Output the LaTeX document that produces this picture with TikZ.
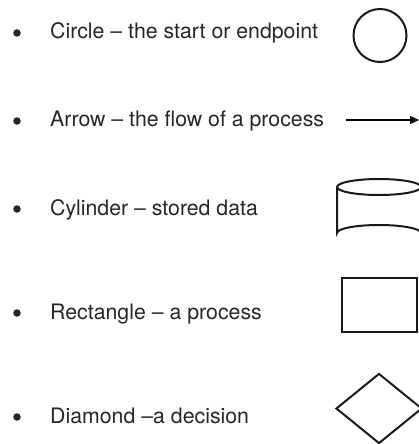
\documentclass[tikz,border=0pt]{standalone}
\usepackage{fontspec}
\setmainfont{TeX Gyre Heros}
\usetikzlibrary{positioning,arrows.meta,shapes.geometric}

\begin{document}
\begin{tikzpicture}[x=1pt, y=-1pt,
    every node/.style={inner sep=0pt},
    label/.style={anchor=base west, font=\fontsize{21.3}{25}\selectfont, text=black!85},
    bullet/.style={circle, fill=black!85, minimum size=7.5pt},
    symbol/.style={draw=black!90, line width=2pt}]
  \useasboundingbox (0,0) rectangle (419,444);
  % bullets
  \node[bullet] (b1) at (17,33) {};
  \node[bullet] (b2) at (17,121) {};
  \node[bullet] (b3) at (17,209) {};
  \node[bullet] (b4) at (17,313) {};
  \node[bullet] (b5) at (17,417) {};
  % texts
  \node[label] (tCircle) at (50,39) {Circle – the start or endpoint};
  \node[label] (tArrow) at (50,126) {Arrow – the flow of a process};
  \node[label] (tCyl) at (50,215) {Cylinder – stored data};
  \node[label] (tRect) at (50,319) {Rectangle – a process};
  \node[label] (tDiam) at (50,423) {Diamond –a decision};
  % symbols
  \node[symbol, circle, minimum size=53pt] (sCircle) at (380,35.5) {};
  \coordinate (arrS) at (346,120);
  \coordinate (arrE) at (419,120);
  \draw[line width=1.1pt, -{Triangle[length=9pt, width=8pt]}] (arrS) -- (arrE);
  % cylinder: top ellipse and lower outline
  \coordinate (cylTop) at (379,187);
  \coordinate (cylBot) at (379,233);
  \draw[symbol] (cylTop) ellipse [x radius=42, y radius=8];
  \draw[symbol] ([xshift=-42pt]cylTop) -- ([xshift=-42pt]cylBot)
    arc[start angle=180, end angle=360, x radius=42, y radius=8] -- ([xshift=42pt]cylTop);
  \node[symbol, rectangle, minimum width=75pt, minimum height=54pt] (sRect) at (379.5,305) {};
  \node[symbol, diamond, minimum width=86pt, minimum height=70pt] (sDiam) at (379,408.5) {};
\end{tikzpicture}
\end{document}
